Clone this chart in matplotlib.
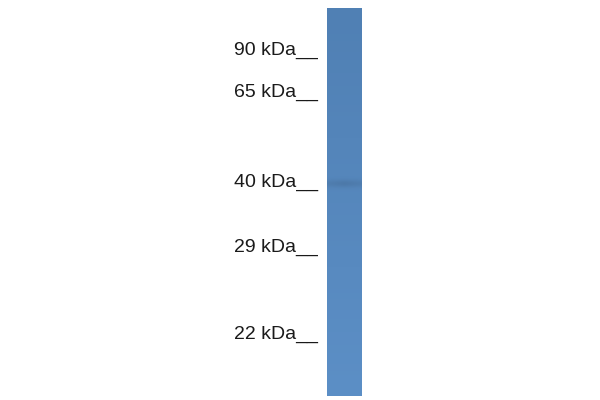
#Western blot lane with molecular weight markers

import numpy as np
import matplotlib.pyplot as plt

#Marker ladder (kDa) and where each marker line sits on the membrane (pixel rows)
marker_kda = [90, 65, 40, 29, 22]
marker_row = [55, 97, 187, 252, 339]

#Detected band: row of the band and its relative darkness
band_row = [183]
band_strength = [0.10]

#Lane extent in pixels
lane_left, lane_right = 327, 362
lane_top, lane_bottom = 8, 396

fig = plt.figure(figsize=(6, 4), dpi=100)
ax = fig.add_axes([0, 0, 1, 1])
ax.set_xlim(0, 600)
ax.set_ylim(400, 0)
ax.axis('off')

#Build the lane image: blue membrane, a bit darker at the top, plus the band
rows = np.arange(lane_top, lane_bottom)
cols = np.arange(lane_left, lane_right)
top_col = np.array([80, 128, 180]) / 255
bot_col = np.array([92, 143, 198]) / 255
frac = (rows - lane_top) / (lane_bottom - lane_top)
img = top_col[None, :] * (1 - frac[:, None]) + bot_col[None, :] * frac[:, None]
img = np.repeat(img[:, None, :], len(cols), axis=1)
for r, s in zip(band_row, band_strength):
    shade = 1 - s * np.exp(-((rows - r) / 4.0) ** 2)
    edge = 1 - 0.35 * np.abs((cols - cols.mean()) / (np.ptp(cols) / 2))
    img = img * (1 - (1 - shade[:, None, None]) * edge[None, :, None])
ax.imshow(img, extent=(lane_left, lane_right, lane_bottom, lane_top),
          aspect='auto', interpolation='bilinear')

#Marker labels
for kda, r in zip(marker_kda, marker_row):
    ax.text(318, r, f"{kda} kDa__", ha='right', va='baseline',
            fontsize=14, family='Liberation Sans', color='#1a1a1a')

fig.savefig("out.png", dpi=100)
